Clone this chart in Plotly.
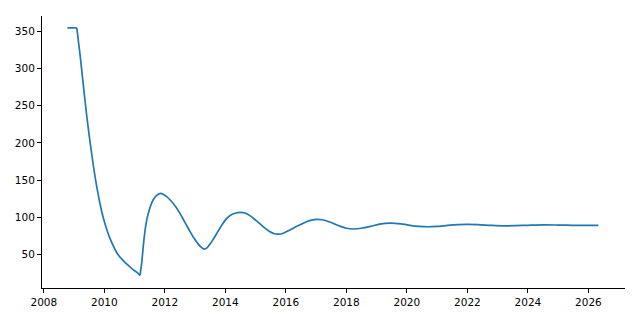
import plotly.graph_objects as go

# Values
years = [
    2008.78, 2009.09, 2009.2, 2009.3, 2009.4, 2009.5, 2009.6, 2009.7, 2009.8, 2009.9,
    2010.0, 2010.1, 2010.2, 2010.3, 2010.4, 2010.5, 2010.6, 2010.7, 2010.8, 2010.9,
    2011.0, 2011.1, 2011.18,
    2011.24, 2011.29, 2011.37, 2011.48, 2011.64, 2011.86,
    2012.05, 2012.2, 2012.36, 2012.5, 2012.65, 2012.8, 2012.95, 2013.1, 2013.2, 2013.29,
    2013.4, 2013.55, 2013.7, 2013.85, 2014.0, 2014.17, 2014.35, 2014.49,
    2014.65, 2014.85, 2015.0, 2015.15, 2015.3, 2015.45, 2015.6, 2015.73,
    2015.9, 2016.1, 2016.3, 2016.49, 2016.7, 2016.85, 2017.03,
    2017.2, 2017.45, 2017.65, 2017.81, 2018.0, 2018.24,
    2018.5, 2018.8, 2019.1, 2019.45, 2019.8, 2020.1, 2020.4, 2020.7,
    2021.0, 2021.35, 2021.7, 2022.0, 2022.35, 2022.8, 2023.22,
    2023.6, 2024.0, 2024.5, 2025.0, 2025.5, 2026.0, 2026.33,
]
values = [
    355, 355, 318, 280, 243, 210, 180, 153, 130, 110,
    94, 81, 70, 61, 53, 47, 42.5, 38.3, 34.5, 31,
    27.8, 24.8, 21.5,
    40, 62, 89, 109, 125, 132,
    128, 122, 114, 105, 94, 83, 72.5, 64, 59.5, 57,
    59, 67, 77, 87, 96, 102.5, 105.5, 106.5,
    105.5, 101, 96, 91, 85.5, 81, 78, 77,
    78, 82, 86.5, 90, 94, 96, 97,
    96.5, 93.5, 90, 87.5, 85, 84,
    85, 87.5, 90.5, 92, 91, 89, 87.5, 87,
    87.5, 89, 90, 90.2, 89.8, 88.8, 88.2,
    88.5, 89, 89.5, 89.3, 89, 88.9, 89,
]
x_ticks = list(range(2008, 2027, 2))
y_ticks = [50, 100, 150, 200, 250, 300, 350]

corner = 1
cusp = years.index(2011.18)
color = "#1f77b4"

fig = go.Figure()
segments = [(0, corner + 1, "linear"), (corner, cusp + 1, "spline"), (cusp, len(years), "spline")]
for a, b, shape in segments:
    line = dict(color=color, width=1.7, shape=shape)
    if shape == "spline":
        line["smoothing"] = 0.8
    fig.add_trace(go.Scatter(x=years[a:b], y=values[a:b], mode="lines",
                             line=line, showlegend=False))

axis_common = dict(showline=True, linecolor="black", linewidth=1, ticks="outside",
                   ticklen=4, tickwidth=1, tickcolor="black", showgrid=False,
                   zeroline=False, mirror=False,
                   tickfont=dict(family="DejaVu Sans", size=10.5, color="black"))

fig.update_layout(
    width=640, height=320,
    margin=dict(l=42, r=15, t=16, b=30),
    paper_bgcolor="white", plot_bgcolor="white",
    xaxis=dict(range=[2007.94, 2027.21], tickvals=x_ticks, **axis_common),
    yaxis=dict(range=[4.5, 371], tickvals=y_ticks, **axis_common),
)

fig.write_html("out.html")
